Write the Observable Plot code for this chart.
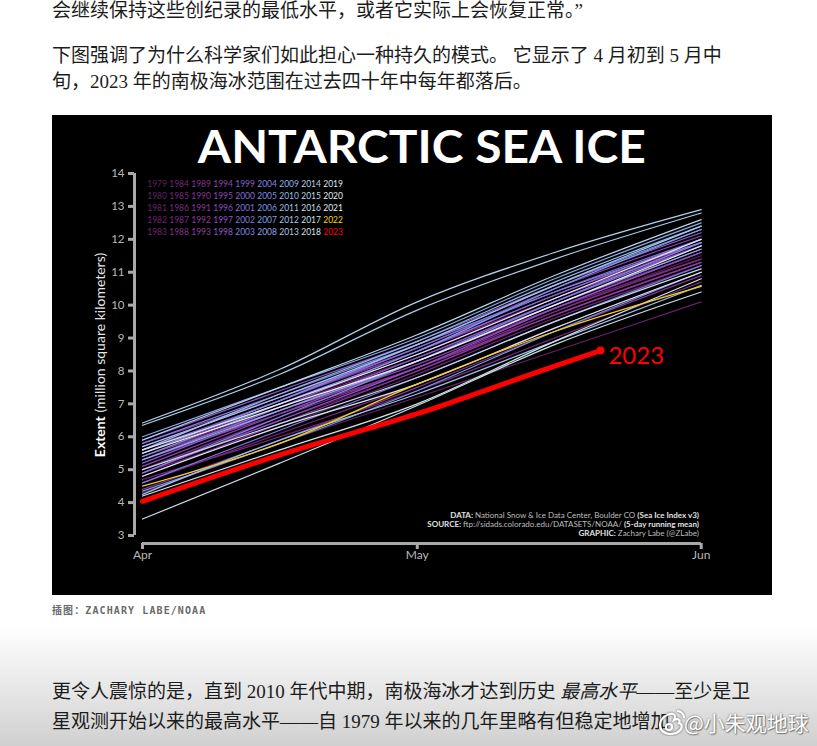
<!DOCTYPE html>
<html>
<head>
<meta charset="utf-8">
<script src="https://cdn.jsdelivr.net/npm/d3@7"></script>
<script src="https://cdn.jsdelivr.net/npm/@observablehq/plot@0.6"></script>
<style>
html, body { margin: 0; padding: 0; background: #fff; }
#page { position: relative; width: 817px; height: 746px; overflow: hidden;
  font-family: "Liberation Serif", "Noto Sans CJK SC", serif; color: #1c1c1c; }
.ln { position: absolute; left: 52px; white-space: nowrap; font-size: 19px; line-height: 26px; }
#chart { position: absolute; left: 52px; top: 115px; width: 720px; height: 480px; background: #000; }
#chart svg { display: block; }
#caption { position: absolute; left: 52px; top: 604px; font-size: 10px; line-height: 14px; color: #6a6a6a;
  font-family: "DejaVu Sans Mono", "Noto Sans CJK SC", monospace; font-weight: 600; letter-spacing: 1.1px; white-space: nowrap; }
#fade { position: absolute; left: 0; top: 626px; width: 817px; height: 120px;
  background: linear-gradient(to bottom, #ffffff 0%, #e8e8e8 50%, #d0d0d0 100%); }
#wm { position: absolute; left: 684px; top: 708px; font-family: "Noto Sans CJK SC", sans-serif; font-size: 21px;
  line-height: 28px; color: #fff; text-shadow: 0 0 2px rgba(0,0,0,0.55), 1px 1px 1px rgba(0,0,0,0.35); white-space: nowrap; }
#logo { position: absolute; left: 656px; top: 708px; }
</style>
</head>
<body>
<div id="page">
  <div class="ln" style="top:-2px">会继续保持这些创纪录的最低水平，或者它实际上会恢复正常。”</div>
  <div class="ln" style="top:43px">下图强调了为什么科学家们如此担心一种持久的模式。 它显示了 4 月初到 5 月中</div>
  <div class="ln" style="top:69px">旬，2023 年的南极海冰范围在过去四十年中每年都落后。</div>
  <div id="chart"></div>
  <div id="caption">插图：ZACHARY LABE/NOAA</div>
  <div id="fade"></div>
  <div class="ln" style="top:679px">更令人震惊的是，直到 2010 年代中期，南极海冰才达到历史 <i>最高水平</i>——至少是卫</div>
  <div class="ln" style="top:709px">星观测开始以来的最高水平——自 1979 年以来的几年里略有但稳定地增加</div>
  <svg id="logo" width="30" height="28" viewBox="0 0 30 28">
    <g fill="none" stroke="#fff" stroke-width="2.2" style="filter: drop-shadow(0 0 1px rgba(0,0,0,0.6))">
      <path d="M4 17 C4 10 12 5 17 6 C20 7 19 10 18 12 C22 10 25 12 23 15 C27 16 27 22 20 25 C12 28 4 24 4 17 Z"/>
      <circle cx="13" cy="19" r="3"/>
      <path d="M21 3 C25 3 28 6 28 10"/>
    </g>
  </svg>
  <div id="wm">@小朱观地球</div>
</div>
<script>
// ---------- data (million km²) ----------
const years = [1979,1980,1981,1982,1983,1984,1985,1986,1987,1988,1989,1990,1991,1992,1993,1994,1995,1996,1997,1998,
               1999,2000,2001,2002,2003,2004,2005,2006,2007,2008,2009,2010,2011,2012,2013,2014,2015,2016,2017,2018,
               2019,2020,2021,2022];
const knotDays = [0, 15, 30, 45, 61];   // Apr 1, Apr 16, May 1, May 16, Jun 1
const apr1  = [5.0,4.3,5.6,5.3,4.9,4.6,5.4,4.7,5.5,5.0,4.4,5.3,5.8,4.8,5.4,5.7,5.1,5.5,4.9,5.9,
               5.2,5.6,5.3,4.6,5.8,4.9,5.5,4.35,5.4,6.0,5.3,5.6,4.25,5.7,6.35,6.42,5.9,5.0,3.5,4.2,
               4.8,5.6,5.5,4.5];
const apr16 = [6.5,5.8,7.0,6.8,6.3,6.1,6.9,6.0,7.1,6.6,5.9,6.7,7.2,6.4,6.8,7.2,6.7,7.0,6.5,7.4,
               6.8,7.1,6.9,6.2,7.3,6.6,7.1,5.8,7.0,7.5,6.8,7.3,5.9,7.2,7.9,8.05,7.5,6.4,5.2,5.6,
               6.3,7.0,6.9,5.8];
const may1  = [8.0,7.2,8.4,8.3,7.9,7.6,8.4,7.4,8.6,8.1,7.5,8.1,8.6,8.0,8.2,8.7,8.3,8.5,8.1,8.9,
               8.4,8.7,8.6,7.8,8.8,8.3,8.8,7.4,8.6,9.0,8.3,8.9,7.3,8.8,9.85,10.1,9.1,7.8,6.95,7.0,
               7.6,8.5,8.3,7.6];
const may16 = [9.8,8.6,10.0,9.9,9.6,9.3,10.1,9.0,10.2,9.8,9.2,9.7,10.3,9.7,9.9,10.5,10.0,10.2,9.9,10.6,
               10.1,10.4,10.3,9.5,10.4,10.1,10.6,9.2,10.5,10.8,10.0,10.7,8.9,10.6,11.4,11.6,10.9,9.5,8.8,8.9,
               9.3,10.2,10.0,9.2];
const jun1  = [11.5,10.1,11.6,11.4,11.2,11.0,11.8,10.7,11.9,11.4,10.9,11.3,11.9,11.3,11.6,12.1,11.7,11.8,11.6,12.2,
               11.8,12.0,12.0,11.2,11.9,11.9,12.3,11.0,12.3,12.5,11.7,12.4,10.6,12.4,12.8,12.9,12.6,11.1,10.4,10.8,
               11.0,12.0,11.8,10.57];
const year2023 = 2023;
const days2023 = [0, 15, 30, 45, 50];
const extent2023 = [4.04, 5.45, 6.7, 8.15, 8.62];

const yTicks = [3,4,5,6,7,8,9,10,11,12,13,14];
const monthTicks = [0, 30, 61];
const monthLabels = ["Apr", "May", "Jun"];
const legendYears = [...years, year2023];

const titleText = "ANTARCTIC SEA ICE";
const credits = [
  [["DATA: ", true], ["National Snow & Ice Data Center, Boulder CO ", false], ["(Sea Ice Index v3)", true]],
  [["SOURCE: ", true], ["ftp://sidads.colorado.edu/DATASETS/NOAA/ ", false], ["(5-day running mean)", true]],
  [["GRAPHIC: ", true], ["Zachary Labe (@ZLabe)", false]]
];

// ---------- styling ----------
const stopYears  = [1979, 1986, 1992, 1997, 2001, 2006, 2011, 2016, 2021];
const stopColors = ["#5e215e", "#7c2c80", "#8d3ca0", "#9052cc", "#8470dc", "#7c98e6", "#9cc0e8", "#c2dce6", "#eaeff0"];
const ramp = d3.scaleLinear().domain(stopYears).range(stopColors).interpolate(d3.interpolateRgb).clamp(true);
const color2022 = "#f2d31b";
const color2023 = "#ff0000";
function colorOf(y) { return y === 2023 ? color2023 : y === 2022 ? color2022 : ramp(y); }

const seriesCols = [apr1, apr16, may1, may16, jun1];
const rows = [];
years.forEach((yr, i) => {
  knotDays.forEach((d, k) => rows.push({year: yr, day: d, extent: seriesCols[k][i], color: colorOf(yr)}));
});
const rows2023 = days2023.map((d, k) => ({year: year2023, day: d, extent: extent2023[k]}));
const last2023 = rows2023[rows2023.length - 1];

const axisGrey = "#a9a9a9";
const labelGrey = "#b8b8b8";
const font = "Lato, 'DejaVu Sans', sans-serif";

const legendMarks = legendYears.map((yr, i) => {
  const col = Math.floor(i / 5), row = i % 5;
  return Plot.text([String(yr)], {
    frameAnchor: "top-left", textAnchor: "start", lineAnchor: "middle",
    dx: 4.7 + col * 22, dy: 11 + row * 12,
    fill: colorOf(yr), fontSize: 8.5, fontFamily: font
  });
});

const chart = Plot.plot({
  width: 720, height: 480,
  marginLeft: 90, marginRight: 71.3, marginTop: 58, marginBottom: 60,
  style: {background: "#000", color: "#fff", fontFamily: font, overflow: "visible"},
  x: {domain: [0, 61]},
  y: {domain: [3, 14]},
  marks: [
    Plot.ruleX([0], {y1: 3, y2: 14, dx: -8, stroke: axisGrey, strokeWidth: 3}),
    Plot.ruleY([3], {x1: 0, x2: 61, dy: 8, stroke: axisGrey, strokeWidth: 3}),
    Plot.axisY({ticks: yTicks, anchor: "left", tickSize: 6, tickPadding: 4, dx: -8,
      stroke: axisGrey, strokeWidth: 3, fill: labelGrey, fontSize: 11.5, label: null}),
    Plot.axisX({ticks: monthTicks, tickFormat: d => monthLabels[monthTicks.indexOf(d)], anchor: "bottom",
      tickSize: 6, tickPadding: 1, dy: 8, stroke: axisGrey, strokeWidth: 3, fill: labelGrey, fontSize: 12, label: null}),
    Plot.line(rows, {x: "day", y: "extent", z: "year", stroke: "color", strokeWidth: 1.2, curve: "monotone-x"}),
    Plot.line(rows2023, {x: "day", y: "extent", stroke: color2023, strokeWidth: 5, curve: "monotone-x",
      strokeLinecap: "round", strokeLinejoin: "round"}),
    Plot.dot([last2023], {x: "day", y: "extent", r: 4, fill: color2023}),
    Plot.text([last2023], {x: "day", y: "extent", text: d => String(d.year), dx: 8, dy: 6,
      textAnchor: "start", fill: color2023, fontSize: 24, fontFamily: font}),
    Plot.text([titleText], {frameAnchor: "top", lineAnchor: "middle", dy: -25.5,
      fill: "#fff", fontSize: 46, fontWeight: 700, fontFamily: font}),
    ...legendMarks
  ]
});

document.getElementById("chart").appendChild(chart);

// post-touches: fit title width, rich-text labels
const svg = d3.select(chart);
svg.selectAll("text").filter(function () { return this.textContent === titleText; })
  .attr("textLength", 448).attr("lengthAdjust", "spacingAndGlyphs");

const yl = svg.append("text")
  .attr("transform", "translate(53,240) rotate(-90)")
  .attr("text-anchor", "middle").attr("font-size", 14).attr("font-family", font).attr("fill", "#fff");
yl.append("tspan").attr("font-weight", "bold").text("Extent");
yl.append("tspan").attr("fill", "#e6e6e6").text(" (million square kilometers)");

const creditBase = [403, 412, 420.7];
credits.forEach((parts, i) => {
  const t = svg.append("text").attr("x", 647).attr("y", creditBase[i]).attr("text-anchor", "end")
    .attr("font-size", 8).attr("font-family", font);
  parts.forEach(([s, b]) => t.append("tspan").attr("font-weight", b ? "bold" : "normal")
    .attr("fill", b ? "#e0e0e0" : "#bdbdbd").text(s));
});
</script>
</body>
</html>
